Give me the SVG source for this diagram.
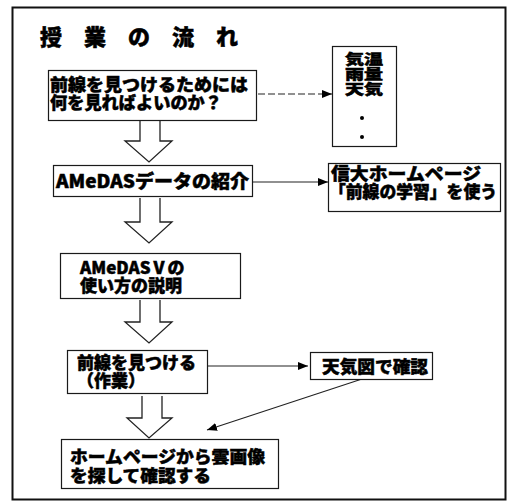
<svg xmlns="http://www.w3.org/2000/svg" width="509" height="502" viewBox="0 0 509 502">
<style>
.box{fill:#fff;stroke:#1a1a1a;stroke-width:1.2}
.t{font-family:"Noto Sans CJK JP","Noto Sans",sans-serif;font-weight:900;font-size:17px;fill:#000;stroke:#000;stroke-width:0.5}
.ln{stroke:#222;stroke-width:1.1;fill:none}
.big{fill:#fff;stroke:#222;stroke-width:1.3;stroke-linejoin:miter}
.s{font-size:14px}
</style>
<defs>
<marker id="ah" markerWidth="10" markerHeight="8" refX="10" refY="4" orient="auto" markerUnits="userSpaceOnUse">
<path d="M0,0 L10,4 L0,8 Z" fill="#000"/>
</marker>
</defs>
<rect x="12.5" y="7.5" width="493" height="492" fill="#fff" stroke="#111" stroke-width="2"/>
<text x="40" y="45" class="t" style="font-size:22px;letter-spacing:22px">授業の流れ</text>

<g id="connectors">
<line class="ln" x1="258" y1="94" x2="332" y2="94" stroke-dasharray="7,3" marker-end="url(#ah)"/>
<line class="ln" x1="253" y1="182" x2="328" y2="182" marker-end="url(#ah)"/>
<line class="ln" x1="208" y1="366" x2="308" y2="366" marker-end="url(#ah)"/>
<line class="ln" x1="362" y1="379" x2="207" y2="430" marker-end="url(#ah)"/>
<path class="big" d="M140,121 V141 H125 L149,162 L172,141 H160 V121"/>
<path class="big" d="M140,198 V222 H125 L149,243 L172,222 H160 V198"/>
<path class="big" d="M140,300 V322 H125 L149,343 L172,322 H160 V300"/>
<path class="big" d="M142,396 V418 H127 L149,438 L172,418 H162 V396"/>
</g>

<g id="n1">
<rect class="box" x="48.5" y="70.5" width="208" height="50"/>
<text class="t" x="50" y="91" textLength="198" lengthAdjust="spacingAndGlyphs">前線を見つけるためには</text>
<text class="t" x="50" y="109" textLength="172" lengthAdjust="spacingAndGlyphs">何を見ればよいのか？</text>
</g>
<g id="n2">
<rect class="box" x="332.5" y="46.5" width="64" height="100"/>
<text class="t s" x="345" y="64" textLength="38" lengthAdjust="spacingAndGlyphs">気温</text>
<text class="t s" x="345" y="79" textLength="38" lengthAdjust="spacingAndGlyphs">雨量</text>
<text class="t s" x="345" y="94" textLength="38" lengthAdjust="spacingAndGlyphs">天気</text>
<circle cx="362" cy="118" r="2" fill="#000"/>
<circle cx="362" cy="137" r="2" fill="#000"/>
</g>
<g id="n3">
<rect class="box" x="53.5" y="165.5" width="199" height="31"/>
<text class="t" x="56" y="188" style="font-size:18px" textLength="193" lengthAdjust="spacingAndGlyphs">AMeDASデータの紹介</text>
</g>
<g id="n4">
<rect class="box" x="328.5" y="163.5" width="172" height="48"/>
<text class="t" x="331" y="180" textLength="150" lengthAdjust="spacingAndGlyphs">信大ホームページ</text>
<text class="t" x="329" y="198" textLength="168" lengthAdjust="spacingAndGlyphs">「前線の学習」を使う</text>
</g>
<g id="n5">
<rect class="box" x="60.5" y="253.5" width="180" height="45"/>
<text class="t" x="80" y="274">AMeDASⅤの</text>
<text class="t" x="80" y="292">使い方の説明</text>
</g>
<g id="n6">
<rect class="box" x="67.5" y="350.5" width="140" height="43"/>
<text class="t" x="77" y="369">前線を見つける</text>
<text class="t" x="77" y="387">（作業）</text>
</g>
<g id="n7">
<rect class="box" x="310.5" y="352.5" width="122" height="27"/>
<text class="t" x="322" y="373" textLength="106" lengthAdjust="spacingAndGlyphs">天気図で確認</text>
</g>
<g id="n8">
<rect class="box" x="61.5" y="439.5" width="217" height="49"/>
<text class="t" x="70" y="463" textLength="195" lengthAdjust="spacingAndGlyphs">ホームページから雲画像</text>
<text class="t" x="70" y="482" textLength="141" lengthAdjust="spacingAndGlyphs">を探して確認する</text>
</g>
</svg>
